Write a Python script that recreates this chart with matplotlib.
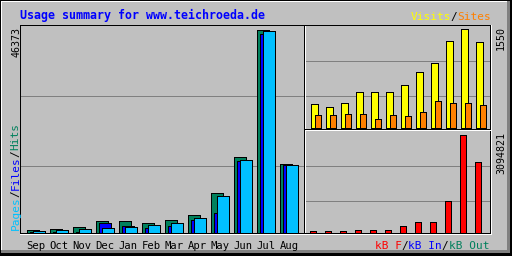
import numpy as np
import matplotlib
matplotlib.use("Agg")
import matplotlib.pyplot as plt
from matplotlib.patches import Rectangle
from matplotlib.transforms import blended_transform_factory

MONTHS = ["Sep", "Oct", "Nov", "Dec", "Jan", "Feb", "Mar", "Apr", "May", "Jun", "Jul", "Aug"]
HITS = [760, 990, 1440, 2810, 2810, 2360, 3040, 4180, 9200, 17260, 46373, 15810]
FILES = [120, 180, 250, 2250, 1670, 1050, 1670, 2890, 4640, 16350, 45310, 15430]
PAGES = [530, 760, 990, 1220, 1440, 1750, 2360, 3500, 8510, 16720, 45920, 15580]
VISITS = [364, 332, 380, 569, 554, 554, 680, 870, 1028, 1376, 1550, 1360]
SITES = [190, 190, 206, 221, 142, 190, 174, 253, 427, 395, 395, 348]
KBYTES = [35000, 35000, 35000, 94700, 94700, 94700, 200000, 347000, 347000, 979000, 3094821, 2210700]
TITLE = "Usage summary for www.teichroeda.de"

GREY = "#c0c0c0"
DARK = "#808080"
C_HITS, C_FILES, C_PAGES = "#00805c", "#0000ff", "#00c0ff"
C_VISITS, C_SITES, C_KB = "#ffff00", "#ff8000", "#ff0000"

W, H, DPI = 512, 256, 100
LW = 0.72          # one pixel
FONT = "DejaVu Sans Mono"
FS = 8.0
ADV = FS * 0.602 * DPI / 72   # advance of one monospace char in px

fig = plt.figure(figsize=(W / DPI, H / DPI), dpi=DPI, facecolor=GREY)


def px_axes(box):
    x0, y0, x1, y1 = box
    ax = fig.add_axes([x0 / W, 1 - y1 / H, (x1 - x0) / W, (y1 - y0) / H])
    ax.set_facecolor(GREY)
    for s in ax.spines.values():
        s.set_visible(False)
    ax.set_xticks([]); ax.set_yticks([])
    return ax


def scale_axes(ax, box, first_left, slot, base, top, vmax, grid_rows):
    x0, y0, x1, y1 = box
    ax.set_xlim((x0 - first_left) / slot, (x1 - first_left) / slot)
    k = vmax / (base - top)
    ax.set_ylim((base - y1) * k, (base - y0) * k)
    for r in grid_rows:
        f = (y1 - (r + 0.5)) / (y1 - y0)
        ax.plot([0, 1], [f, f], transform=ax.transAxes, color=DARK, lw=LW, zorder=0, antialiased=False)


def bars(ax, vals, off, w, slot, color, z):
    idx = np.arange(len(vals))
    ax.bar(idx + off / slot, vals, width=w / slot, align="edge", color=color,
           edgecolor="black", linewidth=LW, zorder=z, antialiased=False)


# main panel: hits / files / pages
main_box = (21, 26, 304, 233)
ax = px_axes(main_box)
scale_axes(ax, main_box, 26.5, 23, 233, 29.5, max(HITS), [95, 165])
bars(ax, HITS, 0, 12.5, 23, C_HITS, 2)
bars(ax, FILES, 3, 12.5, 23, C_FILES, 3)
bars(ax, PAGES, 6, 12.5, 23, C_PAGES, 4)

# top right: visits / sites
tr_box = (306, 26, 490, 129)
ax2 = px_axes(tr_box)
scale_axes(ax2, tr_box, 310.8, 15, 127.5, 29.5, max(VISITS), [60, 95])
bars(ax2, VISITS, 0, 7, 15, C_VISITS, 2)
bars(ax2, SITES, 4, 6.5, 15, C_SITES, 3)

# bottom right: kB
br_box = (306, 131, 490, 233)
ax3 = px_axes(br_box)
scale_axes(ax3, br_box, 309.8, 15, 232.5, 134.5, max(KBYTES), [165, 200])
bars(ax3, KBYTES, 0, 6.5, 15, C_KB, 2)

# overlay in pixel coordinates for frame and labels
ov = fig.add_axes([0, 0, 1, 1])
ov.set_xlim(0, W); ov.set_ylim(H, 0)
ov.set_axis_off(); ov.patch.set_alpha(0); ov.set_zorder(5)


def hl(row, c0, c1, color):
    ov.add_patch(Rectangle((c0, row), c1 - c0 + 1, 1, color=color, lw=0, antialiased=False))


def vl(col, r0, r1, color):
    ov.add_patch(Rectangle((col, r0), 1, r1 - r0 + 1, color=color, lw=0, antialiased=False))


# outer bevel
hl(0, 0, 511, "black"); vl(0, 0, 255, "black")
hl(1, 1, 509, "white"); vl(1, 1, 252, "white")
for c in (507, 508, 509):
    vl(c, 1, 252, DARK)
for r in (250, 251, 252):
    hl(r, 1, 509, DARK)
for c in (510, 511):
    vl(c, 0, 255, "black")
for r in (253, 254, 255):
    hl(r, 0, 511, "black")

# inner frames
hl(25, 20, 490, "black")
vl(20, 25, 233, "black")
vl(304, 25, 233, "black")
vl(305, 26, 233, "white")
vl(490, 25, 233, "black")
vl(491, 25, 234, "white")
hl(233, 20, 490, "black")
hl(234, 20, 491, "white")
hl(129, 305, 490, "black")
hl(130, 306, 490, "white")

tk = dict(family=FONT, fontsize=FS)


def multi(x, y, parts, rot=False):
    n = 0
    for txt, col in parts:
        if rot:
            ov.text(x, y - n * ADV, txt, color=col, rotation=90, rotation_mode="anchor",
                    ha="left", va="baseline", **tk)
        else:
            ov.text(x + n * ADV, y, txt, color=col, ha="left", va="baseline", **tk)
        n += len(txt)


ov.text(19.5, 19, TITLE, color="#0000ff", family=FONT, fontsize=8.4, fontweight="bold",
        ha="left", va="baseline")
multi(410.5, 20, [("Visits", C_VISITS), ("/", "black"), ("Sites", C_SITES)])
multi(375.0, 249, [("kB F", C_KB), ("/", "black"), ("kB In", C_FILES), ("/", "black"), ("kB Out", C_HITS)])
multi(18.5, 230.5, [("Pages", C_PAGES), ("/", "black"), ("Files", C_FILES), ("/", "black"), ("Hits", C_HITS)], rot=True)

num = dict(family=FONT, fontsize=7.2, color="black", rotation=90, rotation_mode="anchor",
           ha="right", va="baseline")
ov.text(19.3, 27.0, str(max(HITS)), **num)
ov.text(504, 26.5, str(max(VISITS)), **num)
ov.text(504, 132.0, str(max(KBYTES)), **num)

mtrans = blended_transform_factory(ax.transData, ov.transData)
for i, m in enumerate(MONTHS):
    ov.text(i + 9.5 / 23, 249, m, transform=mtrans, ha="center", va="baseline",
            family=FONT, fontsize=7.6, color="black")

fig.savefig("out.png", dpi=DPI, facecolor=GREY)
